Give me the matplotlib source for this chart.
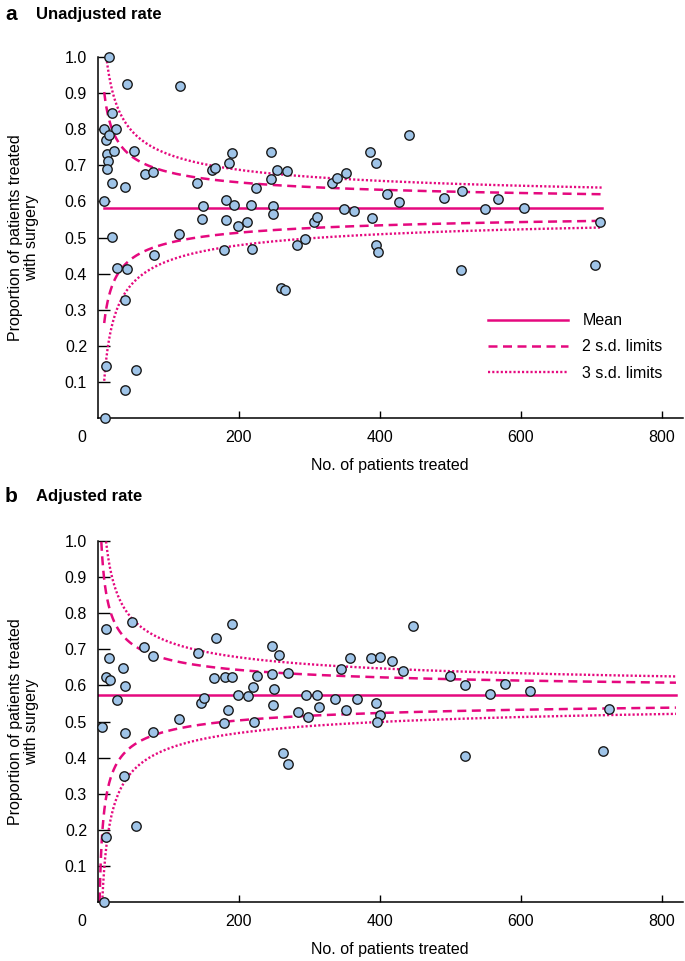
import matplotlib
matplotlib.use("Agg")
import matplotlib.pyplot as plt
import numpy as np

plt.rcParams['font.family'] = ['Liberation Sans', 'DejaVu Sans']

# Panel a: unadjusted rate (no. treated, proportion with surgery)
unadj_n = [16.3, 42.3, 117, 20, 8.6, 26.6, 12.4, 15.7, 13.8, 23.8, 51.3, 15.3, 13.8, 20, 39,
           67.8, 78.3, 8.6, 20.5, 141.7, 162, 166, 186.8, 191, 149.4, 148, 182.5, 193.4, 182.5,
           199, 212.4, 218, 224, 246.5, 246.5, 255, 248.3, 248.3, 116, 268.2, 294.8, 306.6,
           310.9, 332.7, 339.8, 352.6, 348.8, 363, 388.6, 386.2, 395.3, 441.7, 411, 427.5,
           491.4, 516.6, 567.3, 549.3, 604.7, 712.3, 514.7, 704.6, 28, 41.4, 80.2, 39.4, 11.5,
           54.6, 39.4, 10.5, 179.7, 219.5, 259.7, 266, 282.5, 395.3, 397.6]
unadj_p = [0.999, 0.924, 0.920, 0.844, 0.800, 0.800, 0.769, 0.784, 0.732, 0.740, 0.740, 0.711,
           0.689, 0.651, 0.641, 0.677, 0.682, 0.602, 0.501, 0.651, 0.687, 0.693, 0.706, 0.733,
           0.587, 0.551, 0.603, 0.590, 0.548, 0.531, 0.543, 0.590, 0.638, 0.738, 0.662, 0.687,
           0.588, 0.565, 0.511, 0.683, 0.496, 0.544, 0.557, 0.650, 0.666, 0.679, 0.580, 0.573,
           0.553, 0.738, 0.705, 0.783, 0.620, 0.599, 0.610, 0.628, 0.607, 0.578, 0.581, 0.543,
           0.409, 0.423, 0.416, 0.414, 0.452, 0.328, 0.143, 0.132, 0.078, 0.001, 0.464, 0.467,
           0.361, 0.355, 0.480, 0.479, 0.459]

# Panel b: adjusted rate
adj_n = [12.4, 16.2, 11.5, 17.6, 27.1, 36.5, 39.4, 48.5, 66.4, 78.7, 142.3, 146.5, 150.8, 167.3,
         190.6, 165, 180.7, 190.6, 184.4, 199, 213.4, 220, 225.6, 247.5, 256.9, 247.5, 249.8,
         249.3, 270.2, 284.9, 296.2, 297.7, 310.9, 313.7, 115.7, 5.8, 38.9, 78.7, 179.7, 221.3,
         336, 352.7, 367.3, 394.3, 401, 396.7, 344.6, 358.4, 388.2, 401, 417, 433.2, 447.3,
         499.5, 521.3, 577.2, 556.8, 613.7, 724.5, 520.8, 716, 37.5, 54.2, 12, 9.1, 262.6, 269.7]
adj_p = [0.757, 0.675, 0.622, 0.614, 0.560, 0.648, 0.599, 0.776, 0.706, 0.681, 0.689, 0.550,
         0.566, 0.731, 0.769, 0.620, 0.623, 0.623, 0.532, 0.573, 0.571, 0.595, 0.627, 0.709,
         0.684, 0.631, 0.589, 0.546, 0.633, 0.525, 0.573, 0.513, 0.573, 0.539, 0.507, 0.486,
         0.469, 0.472, 0.496, 0.500, 0.562, 0.531, 0.562, 0.551, 0.517, 0.499, 0.645, 0.677,
         0.677, 0.680, 0.667, 0.640, 0.765, 0.626, 0.601, 0.605, 0.575, 0.585, 0.534, 0.404,
         0.418, 0.349, 0.211, 0.179, 0.0, 0.412, 0.383]

panel_letters = ["a", "b"]
panel_titles = ["Unadjusted rate", "Adjusted rate"]
mean_rates = [0.583, 0.573]
n_range = [(9.5, 715), (1, 820)]
sd_levels = [2, 3]
legend_labels = ["Mean", "2 s.d. limits", "3 s.d. limits"]

PINK = "#e5097f"
DOT_FILL = "#9fc4e8"
FS = 11.5

W, H = 685, 961
fig = plt.figure(figsize=(W / 100, H / 100), dpi=100)

def axes_rect(top_px, bottom_px, left_px=97.5, right_px=683):
    return [left_px / W, 1 - bottom_px / H, (right_px - left_px) / W, (bottom_px - top_px) / H]

ax_a = fig.add_axes(axes_rect(57, 418))
ax_b = fig.add_axes(axes_rect(541, 902))

datasets = [(unadj_n, unadj_p), (adj_n, adj_p)]
title_y = [14, 496]

for i, ax in enumerate([ax_a, ax_b]):
    xs, ys = datasets[i]
    m = mean_rates[i]
    n0, n1 = n_range[i]
    n = np.geomspace(n0, n1, 600)
    se = np.sqrt(m * (1 - m) / n)

    ax.plot([n0, n1], [m, m], color=PINK, lw=1.8, zorder=2, label=legend_labels[0])
    styles = {2: dict(ls=(0, (3.6, 2.2)), lw=1.8), 3: dict(ls=(0, (0.9, 0.9)), lw=1.7)}
    for k, lab in zip(sd_levels, legend_labels[1:]):
        for sign in (1, -1):
            y = m + sign * k * se
            y = np.where((y >= 0) & (y <= 1), y, np.nan)
            ax.plot(n, y, color=PINK, zorder=2, label=lab if sign == 1 else None, **styles[k])

    ax.scatter(xs, ys, s=46, color=DOT_FILL, edgecolor="#1a1a1a", linewidth=1.0, zorder=3,
               clip_on=False)

    ax.set_xlim(0, 830)
    ax.set_ylim(0, 1.0)
    ax.set_xticks([200, 400, 600, 800])
    ax.set_yticks(np.arange(1, 11) / 10)
    ax.set_yticklabels([f"{v / 10:.1f}" for v in range(1, 11)])
    ax.tick_params(axis="y", direction="in", length=8.5, width=1.0, pad=7.5, labelsize=FS)
    ax.tick_params(axis="x", direction="in", length=5, width=1.0, pad=8.5, labelsize=FS)
    ax.annotate("0", xy=(0, 0), xycoords="axes fraction", xytext=(-11, -8.5),
                textcoords="offset points", ha="center", va="top", fontsize=FS)
    for side in ("top", "right"):
        ax.spines[side].set_visible(False)
    for side in ("left", "bottom"):
        ax.spines[side].set_linewidth(1.1)

    ax.set_xlabel("No. of patients treated", fontsize=FS)
    ax.xaxis.set_label_coords(0.5, -0.112)
    ax.set_ylabel("Proportion of patients treated\nwith surgery", fontsize=FS,
                  linespacing=1.1)
    ax.yaxis.set_label_coords(-0.1, 0.5)

    fig.text(5 / W, 1 - title_y[i] / H, panel_letters[i], fontsize=15, fontweight="bold",
             va="center", ha="left")
    fig.text(36 / W, 1 - title_y[i] / H, panel_titles[i], fontsize=12, fontweight="bold",
             va="center", ha="left")

ax_a.legend(loc="upper left", bbox_to_anchor=(0.667, 0.29), frameon=False, fontsize=FS,
            handlelength=5.0, handletextpad=0.9, labelspacing=0.7, borderpad=0,
            borderaxespad=0)

fig.savefig("out.png", dpi=100)
